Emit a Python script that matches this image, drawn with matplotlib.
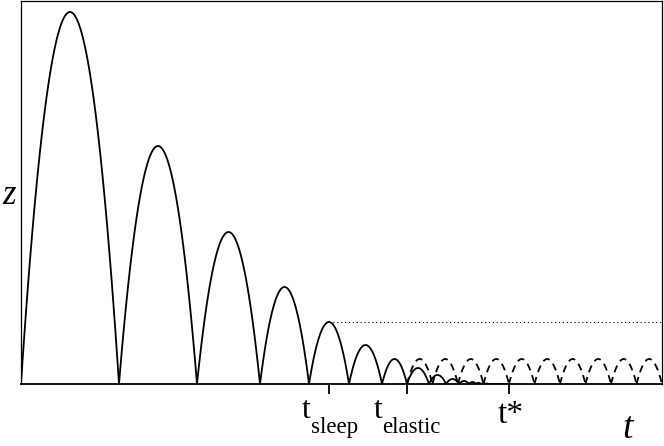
import numpy as np
import matplotlib
matplotlib.use('Agg')
import matplotlib.pyplot as plt

# bouncing ball: landing times and bounce heights
landings = [0, 98, 176, 239, 288, 328, 361, 386, 408, 425, 438, 448, 455, 460, 464, 467]
heights = [372, 238, 152, 97, 62, 39, 25, 16, 9, 5, 3, 2, 1.2, 0.8, 0.5]
t_end_flat = 488

# elastic continuation (dashed)
elastic_landings = [386, 411.5, 437, 462.5, 488, 513.5, 539, 564.5, 590, 615.5, 641]
elastic_height = 25

# sleep level (dotted)
sleep_t = 308
sleep_z = 62

t_sleep = 308
t_elastic = 386
t_star = 488

fig = plt.figure(figsize=(6.64, 4.46), dpi=100)
ax = fig.add_axes([21/664, 62/446, 641/664, 383/446])

def arc(a, b, h):
    t = np.linspace(a, b, 120)
    return t, 4 * h * (t - a) * (b - t) / (b - a) ** 2

for i in range(len(heights)):
    t, z = arc(landings[i], landings[i+1], heights[i])
    ax.plot(t, z, color='black', lw=1.3, solid_capstyle='butt')
ax.plot([landings[-1], t_end_flat], [0, 0], color='black', lw=1.3)

for i in range(len(elastic_landings) - 1):
    t, z = arc(elastic_landings[i], elastic_landings[i+1], elastic_height)
    ax.plot(t, z, color='black', lw=1.3, linestyle=(0, (4, 2.8)))

ax.plot([sleep_t, 641], [sleep_z, sleep_z], color='black', lw=0.8, linestyle=(0, (1, 2.5)))

ax.set_xlim(0, 641)
ax.set_ylim(0, 383)
ax.set_xticks([t_sleep, t_elastic, t_star])
ax.set_xticklabels([])
ax.set_yticks([])
ax.tick_params(axis='x', direction='out', length=7.5, width=1.3)
for s in ['left', 'top', 'right']:
    ax.spines[s].set_linewidth(0.9)
ax.spines['bottom'].set_linewidth(1.3)

serif = 'Liberation Serif'
ax.text(281, -34, 't', fontsize=23, family=serif, ha='left', va='baseline', clip_on=False)
ax.text(290, -49, 'sleep', fontsize=16.5, family=serif, ha='left', va='baseline', clip_on=False)
ax.text(353, -34, 't', fontsize=23, family=serif, ha='left', va='baseline', clip_on=False)
ax.text(361, -49, 'elastic', fontsize=16.5, family=serif, ha='left', va='baseline', clip_on=False)
ax.text(477, -39, 't*', fontsize=24, family=serif, ha='left', va='baseline', clip_on=False)
ax.text(601, -54, 't', fontsize=27, family=serif, style='italic', ha='left', va='baseline', clip_on=False)
ax.text(-19, 180, 'z', fontsize=25, family=serif, style='italic', ha='left', va='baseline', clip_on=False)

fig.savefig('out.png', dpi=100)
